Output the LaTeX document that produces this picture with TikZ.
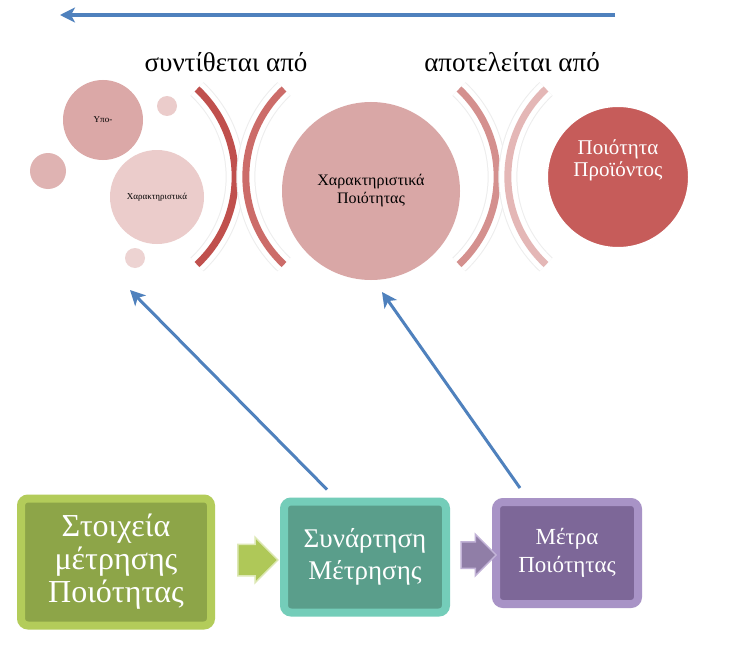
\documentclass[tikz,border=0pt]{standalone}
\usepackage{fontspec}
\setmainfont{Liberation Serif}
\usepackage{tikz}
\usetikzlibrary{arrows.meta,shapes.arrows,shadows}
\definecolor{flowblue}{HTML}{4F81BD}
\definecolor{subfill}{HTML}{DBA8A7}
\definecolor{charfill}{HTML}{EBCCCB}
\definecolor{dotfill}{HTML}{DFB3B2}
\definecolor{dotlight}{HTML}{EDD3D2}
\definecolor{qualfill}{HTML}{D9A7A6}
\definecolor{prodfill}{HTML}{C65C5A}
\definecolor{bandA}{HTML}{C0504D}
\definecolor{bandB}{HTML}{CC6C69}
\definecolor{bandC}{HTML}{D4908E}
\definecolor{bandD}{HTML}{E4B7B6}
\definecolor{olive}{HTML}{8DA548}
\definecolor{oliveedge}{HTML}{B3CC5A}
\definecolor{teal}{HTML}{5A9E8B}
\definecolor{tealedge}{HTML}{74CDB9}
\definecolor{plum}{HTML}{7D6798}
\definecolor{plumedge}{HTML}{A893C6}

\tikzset{
  bubble/.style={circle, inner sep=0pt, align=center},
  band/.style={line width=7pt, line cap=butt,
    preaction={draw=black!7, line width=19pt},
    preaction={draw=white, line width=17pt}},
  flow/.style={draw=flowblue, line width=3pt, -{Stealth[length=15pt,width=15pt,inset=4pt]}},
  bevel/.style={rounded corners=7pt, line width=8pt, align=center, text=white,
    drop shadow={shadow xshift=2pt, shadow yshift=-3pt, opacity=.3}},
  blockarrow/.style={single arrow, inner xsep=0pt, single arrow head extend=7pt, line width=1.5pt}
}

\begin{document}
\begin{tikzpicture}[x=1pt, y=-1pt]
\path[use as bounding box, fill=white] (0,0) rectangle (730,650);

% top flow
\coordinate (topR) at (615,15);
\coordinate (topL) at (60,15);
\draw[flow, line width=3.5pt] (topR) -- (topL);

\node[font=\fontsize{27}{30}\selectfont] (madeof) at (226,62) {συντίθεται από};
\node[font=\fontsize{27}{30}\selectfont] (consists) at (512,62) {αποτελείται από};

% sub-characteristics cluster
\node[bubble, fill=dotfill, minimum size=36pt] (dotL) at (48,171) {};
\node[bubble, fill=charfill, minimum size=20pt] (dotT) at (167,106) {};
\node[bubble, fill=dotlight, minimum size=20pt] (dotB) at (135,258) {};
\node[bubble, fill=subfill, minimum size=80pt, font=\fontsize{9}{11}\selectfont] (subc) at (103,120) {Υπο-};
\node[bubble, fill=charfill, minimum size=94pt, font=\fontsize{9}{11}\selectfont] (charc) at (157,197) {Χαρακτηριστικά};

% brackets
\draw[band, draw=bandA] (197,89) arc[start angle=-47, end angle=47, radius=120];
\draw[band, draw=bandB] (284,89) arc[start angle=227, end angle=133, radius=120];
\draw[band, draw=bandC] (459,89) arc[start angle=-47, end angle=47, radius=120];
\draw[band, draw=bandD] (546,89) arc[start angle=227, end angle=133, radius=120];

\node[bubble, fill=qualfill, minimum size=178pt, font=\fontsize{16}{18}\selectfont] (qualc) at (371,191) {Χαρακτηριστικά\\Ποιότητας};
\node[bubble, fill=prodfill, draw=white, line width=6pt, minimum size=146pt,
  drop shadow={shadow xshift=1pt, shadow yshift=-2pt, opacity=.25}] (prodc) at (618,177) {};
\node[align=center, text=white, font=\fontsize{21}{22}\selectfont, yshift=17pt] (prodtxt) at (prodc.center) {Ποιότητα\\Προϊόντος};

% measurement chain
\node[bevel, fill=olive, draw=oliveedge, minimum width=190pt, minimum height=127pt,
  font=\fontsize{32}{33}\selectfont] (box1) at (116,562) {Στοιχεία\\μέτρησης\\Ποιότητας};
\node[bevel, fill=teal, draw=tealedge, minimum width=162pt, minimum height=111pt,
  font=\fontsize{27}{32}\selectfont] (box2) at (365,557) {Συνάρτηση\\Μέτρησης};
\node[bevel, fill=plum, draw=plumedge, minimum width=142pt, minimum height=102pt,
  font=\fontsize{23}{28}\selectfont] (box3) at (567,553) {Μέτρα\\Ποιότητας};

\node[blockarrow, fill=oliveedge!90!olive, draw=oliveedge!45!white, inner ysep=15pt, minimum height=40pt] (stepA) at (250,560) {};
\node[blockarrow, fill=plum!85!white, draw=plumedge!70!white, inner ysep=12.5pt, single arrow head extend=7.5pt, minimum height=35pt] (stepB) at (472,555) {};

% upward links
\coordinate (subtip) at (130,290);
\coordinate (chartip) at (382,292);
\draw[flow] ([xshift=-38pt, yshift=8pt]box2.north) -- (subtip);
\draw[flow] ([xshift=-47pt, yshift=10pt]box3.north) -- (chartip);
\end{tikzpicture}
\end{document}
